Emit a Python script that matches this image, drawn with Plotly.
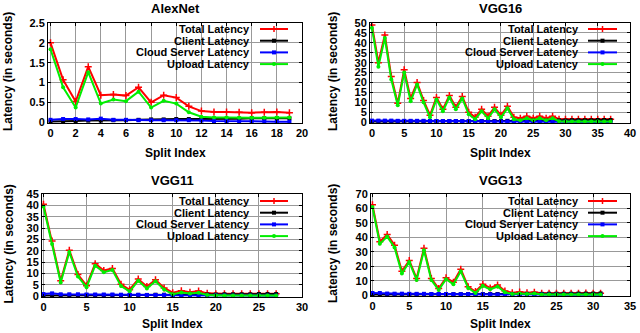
import plotly.graph_objects as go

W, H = 640, 333
FONT = "Liberation Sans, Arial, sans-serif"

series_names = ["Total Latency", "Client Latency", "Cloud Server Latency", "Upload Latency"]
series_colors = ["#ff0000", "#000000", "#0000ff", "#00ee00"]

# ---------------- data ----------------
alex_total = [2.00, 1.07, 0.52, 1.40, 0.68, 0.70, 0.67, 0.88, 0.50, 0.68, 0.62, 0.40, 0.28, 0.26, 0.26, 0.25, 0.24, 0.25, 0.26, 0.24]
alex_client = [0.02, 0.02, 0.03, 0.04, 0.04, 0.05, 0.05, 0.06, 0.07, 0.07, 0.08, 0.08, 0.08, 0.09, 0.09, 0.09, 0.10, 0.10, 0.10, 0.10]
alex_cloud = [0.06, 0.08, 0.08, 0.07, 0.09, 0.06, 0.06, 0.05, 0.05, 0.05, 0.05, 0.05, 0.04, 0.03, 0.03, 0.02, 0.02, 0.02, 0.01, 0.01]
alex_upload = [1.84, 0.88, 0.37, 1.26, 0.47, 0.57, 0.53, 0.77, 0.37, 0.54, 0.47, 0.25, 0.14, 0.12, 0.12, 0.11, 0.11, 0.11, 0.12, 0.12]

vgg16_total = [49, 30, 44, 23, 9.5, 26.5, 12, 20, 11, 3.5, 12.5, 6.5, 13.5, 7.5, 13, 5, 2.5, 6.5, 3, 7.5, 3.5, 8, 2.5, 2, 3, 2, 3, 2, 3, 1.5, 1.5, 1.5, 1.5, 1.5, 1.5, 1.5, 1.5, 1.5]
vgg16_client = [0.4, 0.4, 0.4, 0.4, 0.4, 0.4, 0.4, 0.4, 0.4, 0.4, 0.5, 0.5, 0.5, 0.5, 0.5, 0.5, 0.6, 0.6, 0.6, 0.6, 0.6, 0.7, 0.7, 0.7, 0.7, 0.8, 0.8, 0.8, 0.9, 0.9, 0.9, 1.0, 1.0, 1.0, 1.0, 1.1, 1.1, 1.1]
vgg16_cloud = [0.8, 0.8, 0.8, 0.8, 0.7, 0.7, 0.7, 0.7, 0.7, 0.6, 0.6, 0.6, 0.6, 0.6, 0.5, 0.5, 0.5, 0.5, 0.5, 0.4, 0.4, 0.4, 0.4, 0.4, 0.3, 0.3, 0.3, 0.3, 0.2, 0.2, 0.2, 0.2, 0.2, 0.1, 0.1, 0.1, 0.1, 0.1]
vgg16_upload = [47.5, 28, 42.5, 21.5, 8.5, 25, 10.5, 19, 10, 2.5, 11.5, 5.5, 12.5, 6.5, 12, 4, 1.5, 5.5, 2, 6.5, 2.5, 7, 1.5, 1, 2, 1, 2, 1, 2, 0.5, 0.4, 0.4, 0.4, 0.4, 0.4, 0.4, 0.4, 0.4]

vgg11_total = [40.5, 24.3, 6.8, 20.2, 9.5, 4.6, 14.3, 11.3, 12.2, 5.2, 2.8, 7.5, 4.2, 7.2, 3.6, 1.5, 2.3, 1.7, 2.2, 1.2, 1.0, 1.0, 1.0, 1.0, 1.0, 1.0, 1.0, 1.0]
vgg11_client = [0.3, 0.3, 0.3, 0.3, 0.4, 0.4, 0.4, 0.4, 0.4, 0.5, 0.5, 0.5, 0.5, 0.6, 0.6, 0.6, 0.6, 0.7, 0.7, 0.7, 0.7, 0.8, 0.8, 0.8, 0.8, 0.9, 0.9, 0.9]
vgg11_cloud = [0.9, 1.2, 0.8, 0.8, 0.8, 0.7, 0.7, 0.7, 0.7, 0.6, 0.6, 0.6, 0.5, 0.5, 0.5, 0.4, 0.4, 0.4, 0.3, 0.3, 0.3, 0.3, 0.2, 0.2, 0.2, 0.2, 0.2, 0.2]
vgg11_upload = [39.5, 23.0, 6.0, 19.4, 8.6, 3.9, 13.4, 10.5, 11.5, 4.4, 2.1, 6.8, 3.4, 6.5, 2.9, 0.8, 1.6, 1.1, 1.5, 0.5, 0.3, 0.3, 0.3, 0.3, 0.3, 0.3, 0.3, 0.3]

vgg13_total = [62.5, 37, 42, 34.5, 16.5, 24, 11.5, 32.5, 11.5, 4.6, 12, 9, 18, 5.8, 2.5, 7.5, 5, 7, 2.8, 1.6, 2.1, 1.6, 2.0, 1.3, 1.3, 1.3, 1.3, 1.3, 1.3, 1.4, 1.3, 1.3]
vgg13_client = [0.4, 0.4, 0.4, 0.4, 0.5, 0.5, 0.5, 0.5, 0.5, 0.6, 0.6, 0.6, 0.6, 0.7, 0.7, 0.7, 0.7, 0.8, 0.8, 0.8, 0.8, 0.9, 0.9, 0.9, 1.0, 1.0, 1.0, 1.0, 1.1, 1.1, 1.1, 1.2]
vgg13_cloud = [1.5, 1.5, 1.1, 1.0, 1.0, 0.9, 0.9, 0.9, 0.8, 0.8, 0.8, 0.7, 0.7, 0.7, 0.6, 0.6, 0.6, 0.5, 0.5, 0.5, 0.4, 0.4, 0.4, 0.4, 0.3, 0.3, 0.3, 0.3, 0.2, 0.2, 0.2, 0.2]
vgg13_upload = [61, 35.5, 40.5, 33, 15, 23, 10.5, 31, 10.5, 3.5, 11, 7.5, 16.5, 5, 1.5, 6.5, 4, 6, 2, 0.8, 1.2, 0.8, 1.2, 0.4, 0.4, 0.4, 0.4, 0.4, 0.4, 0.5, 0.4, 0.4]

panel_titles = ["AlexNet", "VGG16", "VGG11", "VGG13"]
panel_data = [
    [alex_total, alex_client, alex_cloud, alex_upload],
    [vgg16_total, vgg16_client, vgg16_cloud, vgg16_upload],
    [vgg11_total, vgg11_client, vgg11_cloud, vgg11_upload],
    [vgg13_total, vgg13_client, vgg13_cloud, vgg13_upload],
]
x_ranges = [[-0.2, 20], [-0.3, 40], [-0.17, 30], [-0.2, 35]]
x_dticks = [2, 5, 5, 5]
y_ranges = [[-0.02, 2.5], [-0.4, 50], [-0.4, 45], [-0.6, 70]]
y_dticks = [0.5, 5, 5, 10]

# ---------------- layout geometry (pixels) ----------------
boxes = [(48, 302, 23, 123), (370, 630, 23, 123), (42, 302, 194, 297), (371, 630, 194, 296)]
key_boxes = [(117, 69), (445, 68), (117, 238), (445, 242)]
key_text_right = [252, 581, 252, 581]
key_rows_top = [29, 29, 201, 201]
key_sample = [(260, 288), (588, 617), (260, 288), (588, 617)]
title_y = [8, 8, 180, 180]
ytitle_x = [8, 333, 8, 333]
xtitle_y = [153, 153, 324, 324]

def px(x):
    return x / W

def py(y):
    return 1 - y / H

fig = go.Figure()
layout = dict(
    width=W, height=H, margin=dict(l=0, r=0, t=0, b=0),
    paper_bgcolor="white", plot_bgcolor="white", showlegend=False,
    font=dict(family=FONT, size=12, color="black"),
)
shapes = []
annotations = []

markers = [
    dict(symbol="cross-thin", size=5, line=dict(width=1.5, color=series_colors[0])),
    dict(symbol="square", size=4, color=series_colors[1]),
    dict(symbol="square", size=4, color=series_colors[2]),
    dict(symbol="circle", size=4, color=series_colors[3]),
]

for i in range(4):
    l, r, t, b = boxes[i]
    sfx = "" if i == 0 else str(i + 1)
    xa, ya = "x" + sfx, "y" + sfx
    axis_common = dict(
        showline=True, linecolor="black", linewidth=1, mirror="ticks",
        ticks="inside", ticklen=3, tickcolor="black",
        showgrid=True, gridcolor="#999999", gridwidth=1, zeroline=False,
        tickfont=dict(family=FONT, size=11, color="black", weight="bold"),
        automargin=False,
    )
    layout["xaxis" + sfx] = dict(axis_common, domain=[px(l), px(r)], range=x_ranges[i],
                                 dtick=x_dticks[i], tick0=0, anchor=ya)
    layout["yaxis" + sfx] = dict(axis_common, domain=[py(b), py(t)], range=y_ranges[i],
                                 dtick=y_dticks[i], tick0=0, anchor=xa)
    for k in range(4):
        vals = panel_data[i][k]
        fig.add_trace(go.Scatter(
            x=list(range(len(vals))), y=vals, mode="lines+markers",
            name=series_names[k], xaxis=xa, yaxis=ya,
            line=dict(color=series_colors[k], width=2), marker=markers[k],
        ))
    kl, kb = key_boxes[i]
    shapes.append(dict(type="rect", xref="paper", yref="paper", layer="between",
                       x0=px(kl), x1=px(r - 1), y0=py(kb), y1=py(t + 1),
                       fillcolor="white", line=dict(width=0)))
    s0, s1 = key_sample[i]
    for k in range(4):
        yy = key_rows_top[i] + k * 11.7
        annotations.append(dict(xref="paper", yref="paper", x=px(key_text_right[i]), y=py(yy),
                                xanchor="right", yanchor="middle", showarrow=False,
                                text=series_names[k],
                                font=dict(family=FONT, size=11, color="black", weight="bold")))
        shapes.append(dict(type="line", xref="paper", yref="paper", layer="above",
                           x0=px(s0), x1=px(s1), y0=py(yy), y1=py(yy),
                           line=dict(color=series_colors[k], width=2)))
        mc = (s0 + s1) / 2
        if k == 0:
            shapes.append(dict(type="line", xref="paper", yref="paper", layer="above",
                               x0=px(mc), x1=px(mc), y0=py(yy - 3), y1=py(yy + 3),
                               line=dict(color=series_colors[k], width=1.5)))
        elif k in (1, 2):
            shapes.append(dict(type="rect", xref="paper", yref="paper", layer="above",
                               x0=px(mc - 2), x1=px(mc + 2), y0=py(yy - 2), y1=py(yy + 2),
                               fillcolor=series_colors[k], line=dict(width=0)))
        else:
            shapes.append(dict(type="circle", xref="paper", yref="paper", layer="above",
                               x0=px(mc - 2), x1=px(mc + 2), y0=py(yy - 2), y1=py(yy + 2),
                               fillcolor=series_colors[k], line=dict(width=0)))
    cx = (l + r) / 2
    annotations.append(dict(xref="paper", yref="paper", x=px(cx), y=py(title_y[i]),
                            xanchor="center", yanchor="middle", showarrow=False,
                            text=panel_titles[i],
                            font=dict(family=FONT, size=13, color="black", weight="bold")))
    annotations.append(dict(xref="paper", yref="paper", x=px(cx), y=py(xtitle_y[i]),
                            xanchor="center", yanchor="middle", showarrow=False,
                            text="Split Index",
                            font=dict(family=FONT, size=12, color="black", weight="bold")))
    annotations.append(dict(xref="paper", yref="paper", x=px(ytitle_x[i]), y=py((t + b) / 2 - 1),
                            xanchor="center", yanchor="middle", showarrow=False, textangle=-90,
                            text="Latency (in seconds)",
                            font=dict(family=FONT, size=12, color="black", weight="bold")))

layout["shapes"] = shapes
layout["annotations"] = annotations
fig.update_layout(**layout)
fig.write_html("out.html", config={"displayModeBar": False},
               post_script="document.body.style.margin='0';document.body.style.overflow='hidden';")
